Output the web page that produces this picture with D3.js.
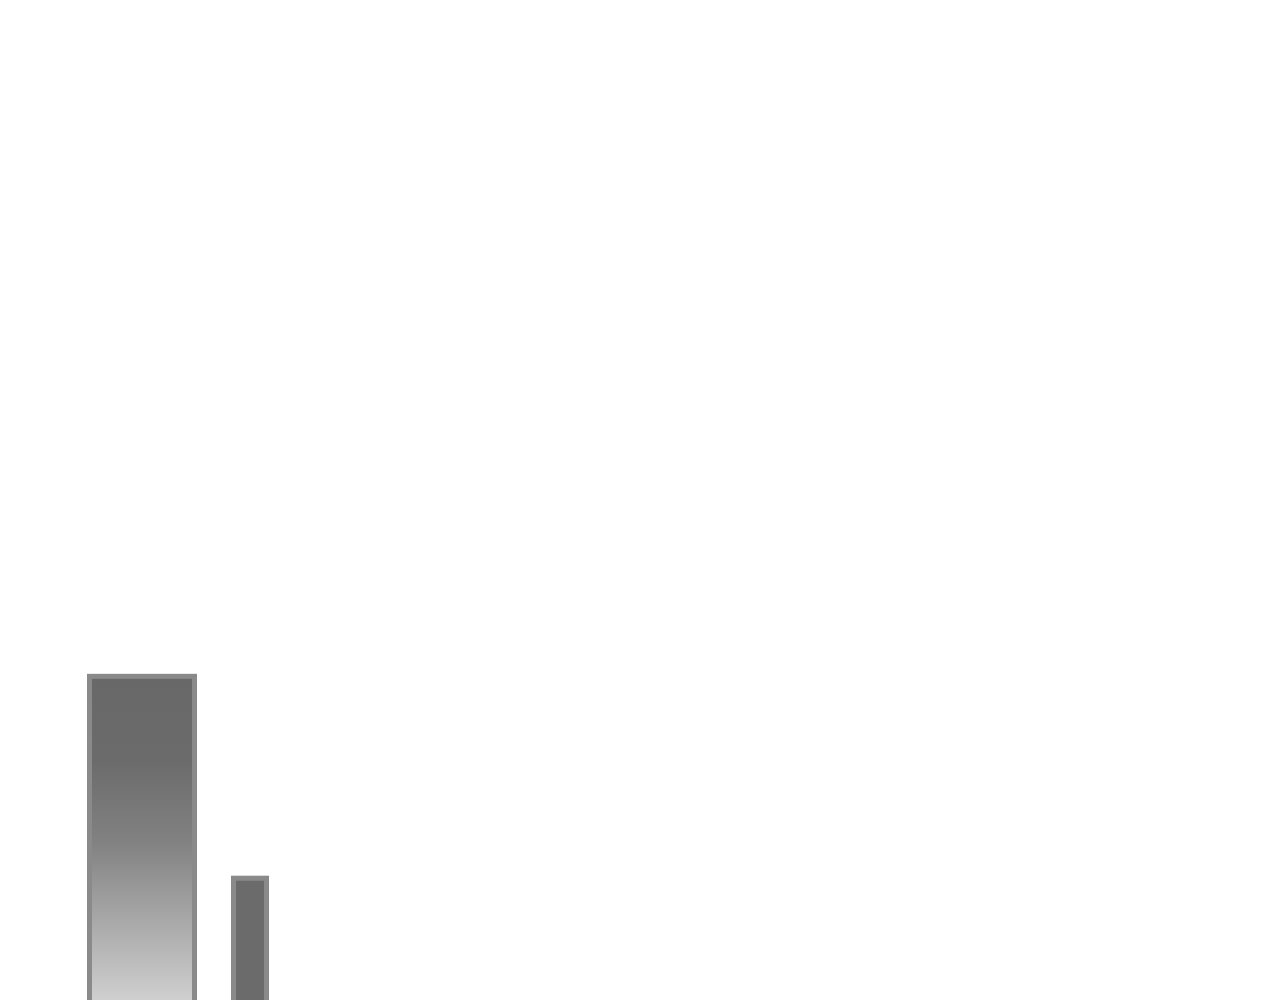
<!DOCTYPE html>
<html lang="en">
  <head>
    <meta charset="utf-8">
    <title>Bars</title>
    <script src="https://d3js.org/d3.v7.min.js"></script>
    <style>
      html, body { margin: 0; padding: 0; background: #fff; overflow: hidden; }
    </style>
  </head>
  <body>
    <div id="container"></div>
    <script>
      width = 1280;
      height = 1000;

      // data
      categories = ["A", "B"];
      values = [100, 39.5];
      weights = [35, 11];       // bar widths (variable-width bars)
      fills = ["grad", "flat"];

      gap = 13;
      yMax = 300;

      // layout: cumulative x positions in weight units
      starts = [];
      let acc = 0;
      weights.forEach((w, i) => { starts.push(acc); acc += w + (i < weights.length - 1 ? gap : 0); });

      data = categories.map((c, i) => ({name: c, value: values[i], start: starts[i], w: weights[i], fill: fills[i]}));

      x = d3.scaleLinear()
        .domain([0, acc])
        .range([89.5, 266.5]);
      // baseline sits just below the window, so the bottom edge is cut off
      y = d3.scaleLinear()
        .domain([0, yMax])
        .range([1010, 9]);

      chart = (function(){
        const svg = d3.create("svg")
            .attr("width", width)
            .attr("height", height)
            .attr("viewBox", [0, 0, width, height]);

        const defs = svg.append("defs");
        const grad = defs.append("linearGradient")
            .attr("id", "grad")
            .attr("x1", 0).attr("y1", 0)
            .attr("x2", 0).attr("y2", 1);
        grad.append("stop").attr("offset", "0%").attr("stop-color", "#686868");
        grad.append("stop").attr("offset", "25%").attr("stop-color", "#6b6b6b");
        grad.append("stop").attr("offset", "50%").attr("stop-color", "#828282");
        grad.append("stop").attr("offset", "100%").attr("stop-color", "#d4d4d4");

        svg.append("g")
            .attr("stroke", "#8a8a8a")
            .attr("stroke-width", 5)
          .selectAll("rect")
          .data(data)
          .join("rect")
            .attr("x", d => x(d.start))
            .attr("y", d => y(d.value))
            .attr("width", d => x(d.start + d.w) - x(d.start))
            .attr("height", d => y(0) - y(d.value))
            .attr("fill", d => d.fill === "grad" ? "url(#grad)" : "#6b6b6b");

        return svg.node();
      })();

      d3.select("#container").append(() => chart);
    </script>
  </body>
</html>
